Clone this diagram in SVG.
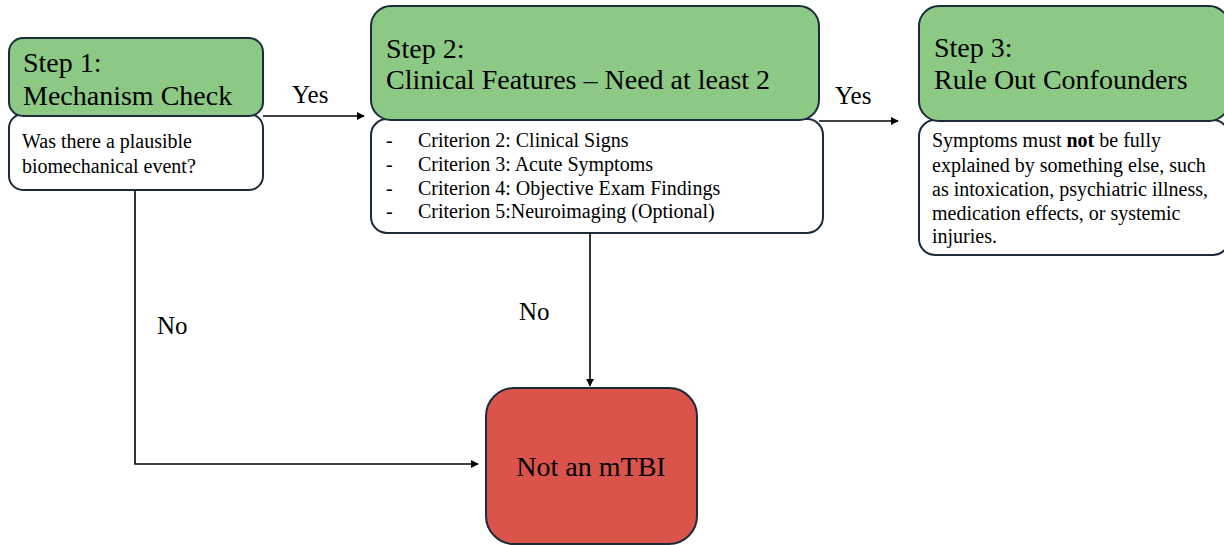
<svg xmlns="http://www.w3.org/2000/svg" width="1224" height="545" viewBox="0 0 1224 545" font-family="Liberation Serif">
<defs>
<style>
.hd{fill:#8cc984;stroke:#1c2b3a;stroke-width:2}
.bd{fill:#ffffff;stroke:#1c2b3a;stroke-width:2}
.rd{fill:#db544c;stroke:#1c2b3a;stroke-width:2}
.h{font-size:28px}
.b{font-size:20px}
.l{font-size:25px}
.cn{stroke:#000;stroke-width:1.6;fill:none}
</style>
<marker id="ar" viewBox="0 0 10 10" refX="9" refY="5" markerWidth="8" markerHeight="8" markerUnits="userSpaceOnUse" orient="auto"><path d="M0,0 L10,5 L0,10 z" fill="#000"/></marker>
</defs>
<rect width="1224" height="545" fill="#fff"/>
<g id="step1">
<rect class="bd" x="9" y="114" width="254" height="76" rx="14"/>
<rect class="hd" x="9" y="38" width="254" height="78" rx="14"/>
<text class="h" x="23" y="72">Step 1:</text>
<text class="h" x="23" y="105">Mechanism Check</text>
<text class="b" x="22" y="148">Was there a plausible</text>
<text class="b" x="22" y="173">biomechanical event?</text>
</g>
<g id="step2">
<rect class="bd" x="371" y="119" width="452" height="114" rx="16"/>
<rect class="hd" x="371" y="6" width="448" height="114" rx="20"/>
<text class="h" x="386" y="58">Step 2:</text>
<text class="h" x="386" y="89">Clinical Features – Need at least 2</text>
<text class="b" x="386" y="147">-</text><text class="b" x="418" y="147">Criterion 2: Clinical Signs</text>
<text class="b" x="386" y="171">-</text><text class="b" x="418" y="171">Criterion 3: Acute Symptoms</text>
<text class="b" x="386" y="195">-</text><text class="b" x="418" y="195">Criterion 4: Objective Exam Findings</text>
<text class="b" x="386" y="218">-</text><text class="b" x="418" y="218">Criterion 5:Neuroimaging (Optional)</text>
</g>
<g id="step3">
<rect class="bd" x="919" y="120" width="310" height="135" rx="16"/>
<rect class="hd" x="919" y="6" width="310" height="115" rx="20"/>
<text class="h" x="934" y="57">Step 3:</text>
<text class="h" x="934" y="89">Rule Out Confounders</text>
<text class="b" x="932" y="147">Symptoms must <tspan font-weight="bold">not</tspan> be fully</text>
<text class="b" x="932" y="172">explained by something else, such</text>
<text class="b" x="932" y="196">as intoxication, psychiatric illness,</text>
<text class="b" x="932" y="220">medication effects, or systemic</text>
<text class="b" x="932" y="243">injuries.</text>
</g>
<g id="notmtbi">
<rect class="rd" x="486" y="388" width="211" height="156" rx="28"/>
<text class="h" x="591" y="476" text-anchor="middle">Not an mTBI</text>
</g>
<g id="connectors">
<path class="cn" d="M263,116 H364" marker-end="url(#ar)"/>
<path class="cn" d="M819,121 H898" marker-end="url(#ar)"/>
<path class="cn" d="M135,190 V464 H478" marker-end="url(#ar)"/>
<path class="cn" d="M590,233 V386" marker-end="url(#ar)"/>
<text class="l" x="292" y="103">Yes</text>
<text class="l" x="835" y="104">Yes</text>
<text class="l" x="157" y="334">No</text>
<text class="l" x="519" y="320">No</text>
</g>
</svg>
